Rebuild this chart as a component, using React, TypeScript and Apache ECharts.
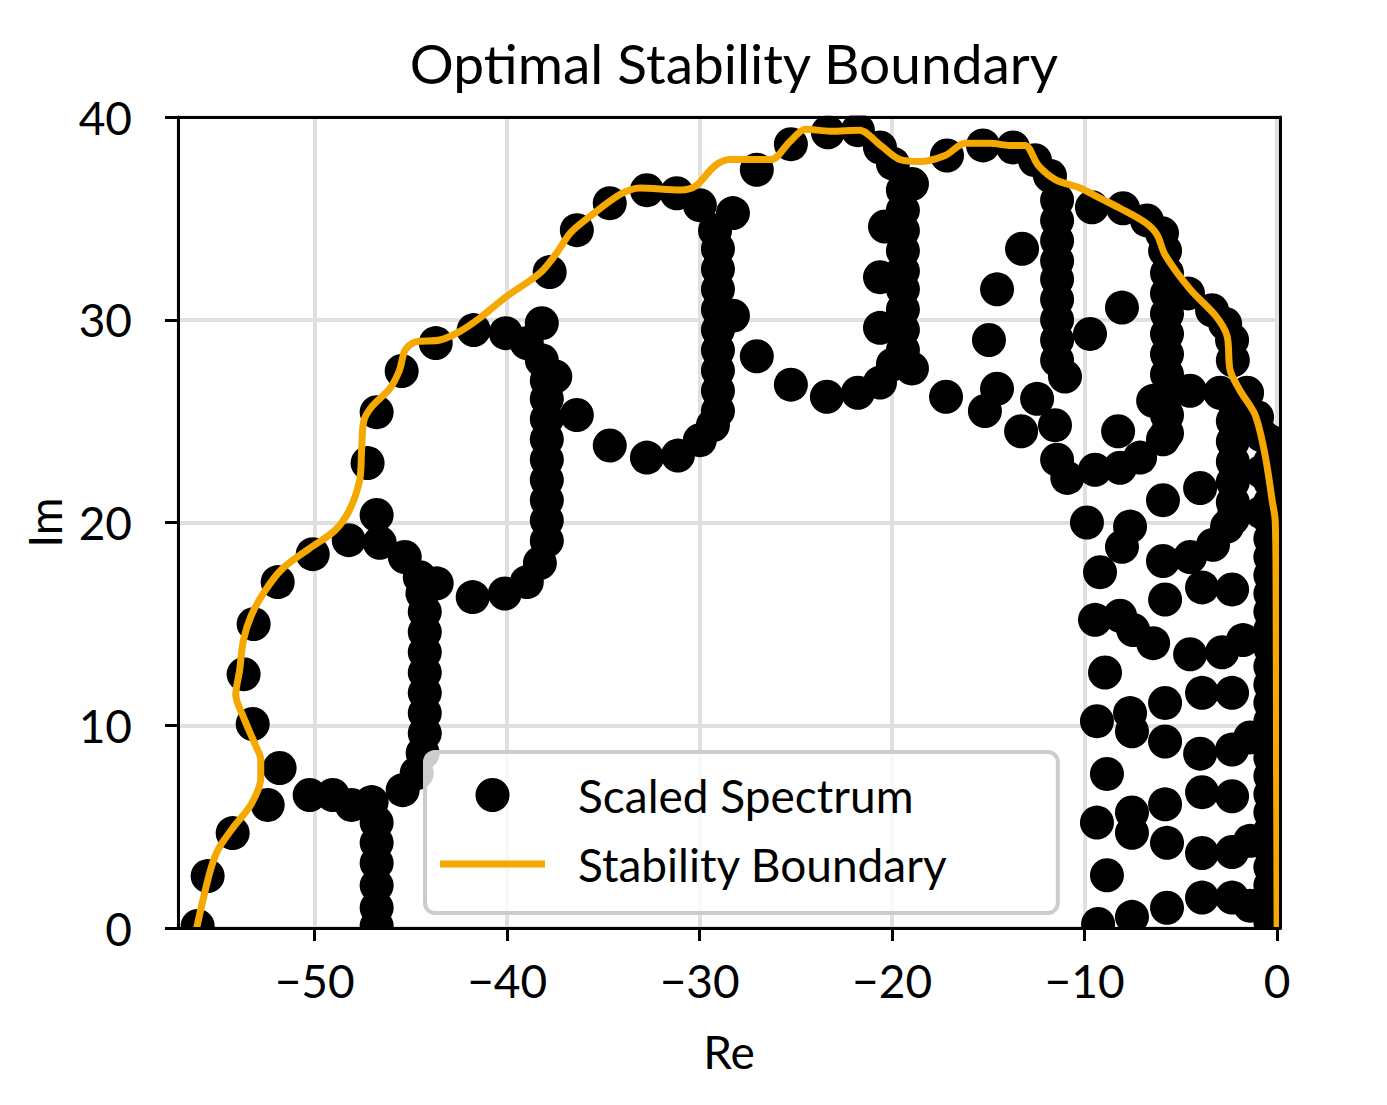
import React, { useEffect, useRef } from "react";
import * as echarts from "echarts";

const FONT = "Lato, 'Noto Sans', sans-serif";
const ORANGE = "#f5a800";

const xTicks = [-50, -40, -30, -20, -10, 0];
const yTicks = [0, 10, 20, 30, 40];

// Scaled spectrum points [Re, Im]
const outerArc = [
  [-56.08, 0.1], [-55.56, 2.56], [-54.26, 4.68], [-52.44, 6.07], [-51.82, 7.89], [-53.22, 10.06],
  [-53.69, 12.52], [-53.17, 14.99], [-51.92, 17.06], [-50.1, 18.44], [-48.23, 19.13], [-46.78, 20.37],
  [-47.25, 22.93], [-46.78, 25.44], [-45.48, 27.47], [-43.71, 28.85], [-41.74, 29.49], [-40.07, 29.34],
  [-38.2, 29.83], [-37.79, 32.35], [-36.38, 34.42], [-34.67, 35.75], [-32.74, 36.39], [-31.19, 36.24],
  [-29.99, 35.65], [-28.27, 35.26], [-27.03, 37.4], [-25.26, 38.66], [-23.34, 39.25], [-21.78, 39.35],
  [-20.63, 38.5], [-19.96, 37.7], [-18.97, 36.7], [-17.15, 38.1], [-15.28, 38.6], [-13.72, 38.5],
  [-12.58, 37.87], [-11.8, 37.1], [-9.62, 35.55], [-8.0, 35.5], [-6.76, 34.9], [-5.98, 34.27],
  [-5.82, 33.4], [-4.63, 31.3], [-3.38, 30.47], [-2.7, 29.8], [-2.34, 29.0], [-2.3, 28.0],
  [-1.56, 26.4], [-1.04, 25.2],
];

const loopA = [
  [-50.26, 6.56], [-49.06, 6.56], [-48.08, 6.07], [-47.04, 6.21], [-46.78, 5.2], [-46.78, 4.2],
  [-46.78, 3.2], [-46.78, 2.1], [-46.78, 1.0], [-46.78, 0.1], [-45.43, 6.8], [-44.7, 7.64],
  [-44.39, 8.63], [-44.28, 9.6], [-44.28, 10.6], [-44.28, 11.6], [-44.28, 12.6], [-44.28, 13.6],
  [-44.28, 14.6], [-44.28, 15.6], [-44.4, 16.5], [-44.54, 17.3], [-43.66, 17.0], [-45.32, 18.3],
  [-46.62, 19.0],
];

const loopB = [
  [-41.79, 16.32], [-40.12, 16.5], [-38.98, 17.06], [-38.3, 18.0], [-37.94, 19.1], [-37.94, 20.1],
  [-37.94, 21.1], [-37.94, 22.1], [-37.94, 23.1], [-37.94, 24.1], [-37.94, 25.1], [-37.94, 26.1],
  [-37.94, 27.0], [-38.2, 28.0], [-37.5, 27.2], [-36.38, 25.3], [-38.98, 28.85],
];

const loopC = [
  [-34.67, 23.8], [-32.74, 23.2], [-31.13, 23.3], [-29.99, 24.06], [-29.31, 24.8], [-29.05, 25.5],
  [-29.05, 26.5], [-29.05, 27.5], [-29.05, 28.5], [-29.05, 29.5], [-29.05, 30.5], [-29.05, 31.5],
  [-29.05, 32.5], [-29.05, 33.5], [-29.2, 34.4], [-28.27, 30.2], [-27.03, 28.2],
];

const loopD = [
  [-25.26, 26.8], [-23.39, 26.2], [-21.78, 26.4], [-20.63, 26.9], [-19.96, 27.8], [-18.97, 27.6],
  [-19.44, 28.5], [-19.44, 29.5], [-19.44, 30.5], [-19.44, 31.5], [-19.44, 32.4], [-19.44, 33.4],
  [-19.44, 34.4], [-19.44, 35.4], [-19.44, 36.4], [-20.63, 29.6], [-20.63, 32.1], [-20.37, 34.6],
];

const loopE = [
  [-17.2, 26.2], [-15.18, 25.5], [-14.55, 26.6], [-13.3, 24.5], [-12.47, 26.1], [-11.54, 24.8],
  [-11.02, 27.2], [-11.43, 28], [-11.43, 29], [-11.43, 30], [-11.43, 31], [-11.43, 32],
  [-11.43, 32.9], [-11.43, 33.9], [-11.43, 34.9], [-11.43, 35.9], [-14.97, 29.0], [-14.55, 31.5],
  [-13.25, 33.5], [-9.72, 29.3], [-8.06, 30.6],
];

const innerRight = [
  [-11.43, 23.1], [-10.9, 22.2], [-9.46, 22.6], [-8.16, 22.7], [-8.26, 24.5], [-7.12, 23.2],
  [-6.44, 26.0], [-5.93, 24.1], [-4.52, 26.5], [-2.96, 26.4],
  [-5.72, 32.3], [-5.72, 31.3], [-5.72, 30.3], [-5.72, 29.3], [-5.72, 28.3], [-5.72, 27.3],
  [-5.72, 26.3], [-5.72, 25.3], [-5.72, 24.4],
  [-5.93, 21.1], [-4.0, 21.7],
  [-2.3, 26], [-2.3, 25], [-2.3, 24], [-2.3, 23], [-2.3, 22], [-2.3, 21], [-2.3, 20.2],
];

const lowerRight = [
  [-9.88, 20.0], [-7.64, 19.8], [-8.06, 18.8], [-9.2, 17.55], [-5.93, 18.1], [-4.52, 18.3],
  [-3.33, 18.9], [-2.6, 19.8], [-5.82, 16.2], [-3.9, 16.8], [-2.34, 16.7], [-9.46, 15.2],
  [-8.16, 15.4], [-7.48, 14.7], [-6.44, 14.05], [-4.52, 13.5], [-2.86, 13.6], [-1.77, 14.2],
  [-8.94, 12.6], [-5.82, 11.1], [-3.9, 11.6], [-2.34, 11.6], [-9.36, 10.2], [-7.64, 10.6],
  [-7.54, 9.7], [-5.82, 9.2], [-4.0, 8.6], [-2.34, 8.8], [-1.4, 9.4], [-8.84, 7.6],
  [-5.82, 6.1], [-3.9, 6.7], [-2.34, 6.5], [-9.36, 5.2], [-7.54, 5.7], [-7.54, 4.7],
  [-5.72, 4.2], [-3.9, 3.7], [-2.34, 3.75], [-1.4, 4.3], [-8.84, 2.6], [-5.72, 1.0],
  [-3.9, 1.5], [-2.34, 1.5], [-1.4, 1.1], [-9.3, 0.2], [-7.54, 0.55],
];

const edgeColumn = [
  [-0.35, 0.3], [-0.35, 1.2], [-0.35, 2.1], [-0.35, 3.0], [-0.35, 3.9], [-0.35, 4.8],
  [-0.35, 5.7], [-0.35, 6.6], [-0.35, 7.5], [-0.35, 8.4], [-0.35, 9.3], [-0.35, 10.2],
  [-0.35, 11.1], [-0.35, 12.0], [-0.35, 12.9], [-0.35, 13.8], [-0.35, 14.7], [-0.35, 15.6],
  [-0.35, 16.5], [-0.35, 17.4], [-0.35, 18.3], [-0.35, 19.2], [-0.35, 20.1], [-0.35, 21.0],
  [-0.35, 22.0], [-0.35, 23.0], [-0.35, 24.0], [-0.8, 20.5], [-0.8, 22.5], [-0.8, 24.3],
];

// Stability boundary [Re, Im]
const boundary = [
  [-56.13, 0], [-55.8, 1.4], [-55.4, 2.9], [-55.0, 3.9], [-54.2, 5.0], [-53.3, 6.1],
  [-52.8, 7.4], [-52.8, 8.3], [-53.07, 9.0], [-53.7, 10.4], [-54.1, 11.5], [-53.9, 12.7],
  [-53.7, 14.2], [-53.3, 15.4], [-52.6, 16.6], [-51.7, 17.7], [-50.3, 18.7], [-48.96, 19.6],
  [-48.2, 20.6], [-47.66, 22.1], [-47.56, 23.6], [-47.45, 25.0], [-47.04, 25.7], [-46.1, 26.6],
  [-45.6, 27.5], [-45.3, 28.5], [-44.8, 28.9], [-43.5, 29.0], [-42.5, 29.4], [-41.4, 30.1],
  [-40.1, 31.1], [-38.3, 32.3], [-37.5, 33.2], [-36.7, 34.3], [-35.7, 35.1], [-34.1, 36.2],
  [-33.1, 36.5], [-31.0, 36.4], [-30.2, 36.6], [-29.2, 37.6], [-28.4, 37.9], [-26.3, 37.9],
  [-25.3, 38.8], [-24.5, 39.4], [-23.2, 39.3], [-21.7, 39.35], [-20.6, 38.6], [-19.6, 37.9],
  [-18.55, 37.8], [-17.25, 38.1], [-16.2, 38.7], [-14.9, 38.7], [-13.9, 38.6], [-13.1, 38.6],
  [-12.4, 37.6], [-11.5, 36.9], [-10.24, 36.5], [-9.2, 36.0], [-8.16, 35.5], [-6.86, 34.8],
  [-6.24, 34.2], [-5.82, 33.2], [-4.52, 31.5], [-3.2, 30.2], [-2.6, 29.2], [-2.44, 27.5],
  [-1.92, 26.5], [-1.14, 25.3], [-0.62, 23.3], [-0.26, 21.1], [-0.1, 20.1], [-0.05, 16.2],
  [-0.03, 8.0], [0, 0],
];

const X_MIN = -57.1;
const X_MAX = 0.15;

const fmt = (v: number) => (v < 0 ? "\u2212" + Math.abs(v) : String(v));

const frameLine = { show: true, onZero: false, lineStyle: { color: "#000", width: 3 } };

function buildOption() {
  const spectrum = [
    ...outerArc, ...loopA, ...loopB, ...loopC, ...loopD, ...loopE, ...innerRight, ...lowerRight, ...edgeColumn,
  ];
  const mask = (x: number, y: number, w: number, h: number) => ({
    type: "rect", z: 5, silent: true, shape: { x, y, width: w, height: h }, style: { fill: "#fff" },
  });
  return {
    animation: false,
    backgroundColor: "#fff",
    title: {
      text: "Optimal Stability Boundary",
      left: 729,
      textAlign: "center",
      top: 30,
      textStyle: { fontSize: 55, fontWeight: "normal", fontFamily: FONT, color: "#000" },
    },
    grid: { left: 178, right: 107, top: 117, bottom: 177 },
    legend: {
      left: 425,
      top: 752,
      orient: "vertical",
      padding: [20, 110, 26, 15],
      itemWidth: 105,
      itemHeight: 34,
      itemGap: 23,
      backgroundColor: "rgba(255,255,255,0.8)",
      borderColor: "#cccccc",
      borderWidth: 4,
      borderRadius: 10,
      textStyle: { fontSize: 46, lineHeight: 44, fontFamily: FONT, color: "#000", padding: [0, 0, 0, 28] },
      data: [
        { name: "Scaled Spectrum", icon: "circle" },
        {
          name: "Stability Boundary",
          icon: "path://M0,0L105,0L105,7L0,7Z",
          itemStyle: { color: ORANGE, borderWidth: 0 },
          lineStyle: { width: 0 },
        },
      ],
    },
    xAxis: [
      {
        type: "value", min: X_MIN, max: X_MAX,
        splitLine: { show: true, lineStyle: { color: "#e0e0e0", width: 4 } },
        axisLine: { show: false }, axisTick: { show: false }, axisLabel: { show: false },
      },
      {
        type: "value", min: X_MIN, max: X_MAX, position: "bottom", z: 10,
        axisLine: frameLine,
        axisTick: { show: true, length: 13, customValues: xTicks, lineStyle: { color: "#000", width: 3 } },
        axisLabel: { customValues: xTicks, formatter: fmt, fontSize: 46, fontFamily: FONT, color: "#000", margin: 29 },
        splitLine: { show: false },
        name: "Re", nameLocation: "middle", nameGap: 100,
        nameTextStyle: { fontSize: 46, fontFamily: FONT, color: "#000" },
      },
      {
        type: "value", min: X_MIN, max: X_MAX, position: "top", z: 10,
        axisLine: frameLine, axisTick: { show: false }, axisLabel: { show: false }, splitLine: { show: false },
      },
    ],
    yAxis: [
      {
        type: "value", min: 0, max: 40, interval: 10,
        splitLine: { show: true, lineStyle: { color: "#e0e0e0", width: 4 } },
        axisLine: { show: false }, axisTick: { show: false }, axisLabel: { show: false },
      },
      {
        type: "value", min: 0, max: 40, interval: 10, position: "left", z: 10,
        axisLine: frameLine,
        axisTick: { show: true, length: 13, customValues: yTicks, lineStyle: { color: "#000", width: 3 } },
        axisLabel: { customValues: yTicks, formatter: fmt, fontSize: 46, fontFamily: FONT, color: "#000", margin: 46 },
        splitLine: { show: false },
        name: "Im", nameLocation: "middle", nameGap: 110,
        nameTextStyle: { fontSize: 46, fontFamily: FONT, color: "#000" },
      },
      {
        type: "value", min: 0, max: 40, interval: 10, position: "right", z: 10,
        axisLine: frameLine, axisTick: { show: false }, axisLabel: { show: false }, splitLine: { show: false },
      },
    ],
    graphic: [
      mask(100, 929.6, 1240, 22),
      mask(100, 93, 1240, 22.5),
      mask(120, 93, 56.5, 860),
      mask(1281.5, 93, 60, 860),
    ],
    series: [
      {
        name: "Scaled Spectrum",
        type: "scatter",
        xAxisIndex: 0,
        yAxisIndex: 0,
        data: spectrum,
        symbolSize: 34,
        itemStyle: { color: "#000", opacity: 1 },
        z: 2,
      },
      {
        name: "Stability Boundary",
        type: "line",
        xAxisIndex: 0,
        yAxisIndex: 0,
        data: boundary,
        showSymbol: false,
        symbol: "none",
        smooth: 0.3,
        lineStyle: { color: ORANGE, width: 7 },
        itemStyle: { color: ORANGE },
        z: 3,
      },
    ],
  };
}

export default function App() {
  const ref = useRef<HTMLDivElement>(null);
  useEffect(() => {
    document.body.style.margin = "0";
    const chart = echarts.init(ref.current!, null, { renderer: "svg" });
    chart.setOption(buildOption() as any);
    return () => chart.dispose();
  }, []);
  return <div ref={ref} style={{ width: 1387, height: 1105 }} />;
}
